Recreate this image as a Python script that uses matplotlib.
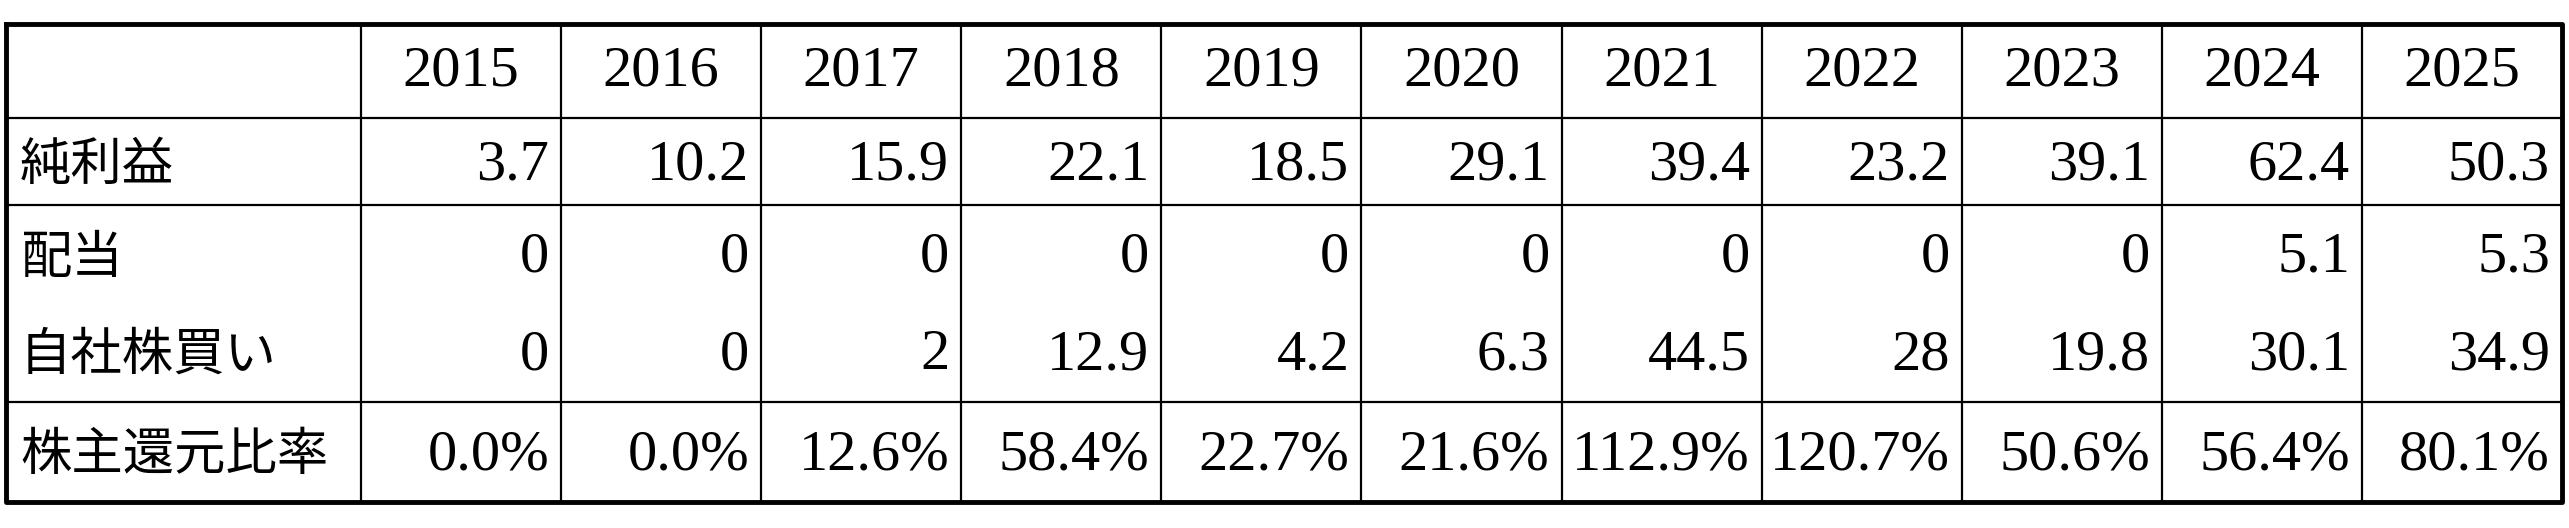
import matplotlib
matplotlib.use('Agg')
import matplotlib.pyplot as plt

years = ['2015', '2016', '2017', '2018', '2019', '2020', '2021', '2022', '2023', '2024', '2025']
row_labels = ['純利益', '配当', '自社株買い', '株主還元比率']
net_income = ['3.7', '10.2', '15.9', '22.1', '18.5', '29.1', '39.4', '23.2', '39.1', '62.4', '50.3']
dividend = ['0', '0', '0', '0', '0', '0', '0', '0', '0', '5.1', '5.3']
buyback = ['0', '0', '2', '12.9', '4.2', '6.3', '44.5', '28', '19.8', '30.1', '34.9']
payout = ['0.0%', '0.0%', '12.6%', '58.4%', '22.7%', '21.6%', '112.9%', '120.7%', '50.6%', '56.4%', '80.1%']

W, H = 2569, 528
fig = plt.figure(figsize=(W / 100, H / 100), dpi=100, facecolor='white')
ax = fig.add_axes([0, 0, 1, 1])
ax.set_xlim(0, W)
ax.set_ylim(H, 0)
ax.axis('off')

left, right, top, bottom = 6, 2562, 24, 502
first_w = 355
col_w = (right - left - first_w) / len(years)
hlines = [118, 205, 402]
row_y = [165, 258, 355, 455]

# grid
for y in hlines:
    ax.plot([left, right], [y, y], color='black', lw=1.6)
for i in range(len(years)):
    x = left + first_w + i * col_w
    ax.plot([x, x], [top, bottom], color='black', lw=1.6)
ax.plot([left, right, right, left, left], [top, top, bottom, bottom, top], color='black', lw=3.5)

num_font = dict(family='Liberation Serif', fontsize=42)
jp_font = dict(family=['Noto Sans CJK JP', 'DejaVu Sans'], fontsize=37)

for i, yr in enumerate(years):
    cx = left + first_w + (i + 0.5) * col_w
    ax.text(cx, 72, yr, ha='center', va='center', **num_font)

for lab, y in zip(row_labels, row_y):
    ax.text(left + 14, y, lab, ha='left', va='center', **jp_font)

for vals, y in zip([net_income, dividend, buyback, payout], row_y):
    for i, v in enumerate(vals):
        rx = left + first_w + (i + 1) * col_w - 12
        ax.text(rx, y, v, ha='right', va='center', **num_font)

fig.savefig('out.png', dpi=100, facecolor='white')
